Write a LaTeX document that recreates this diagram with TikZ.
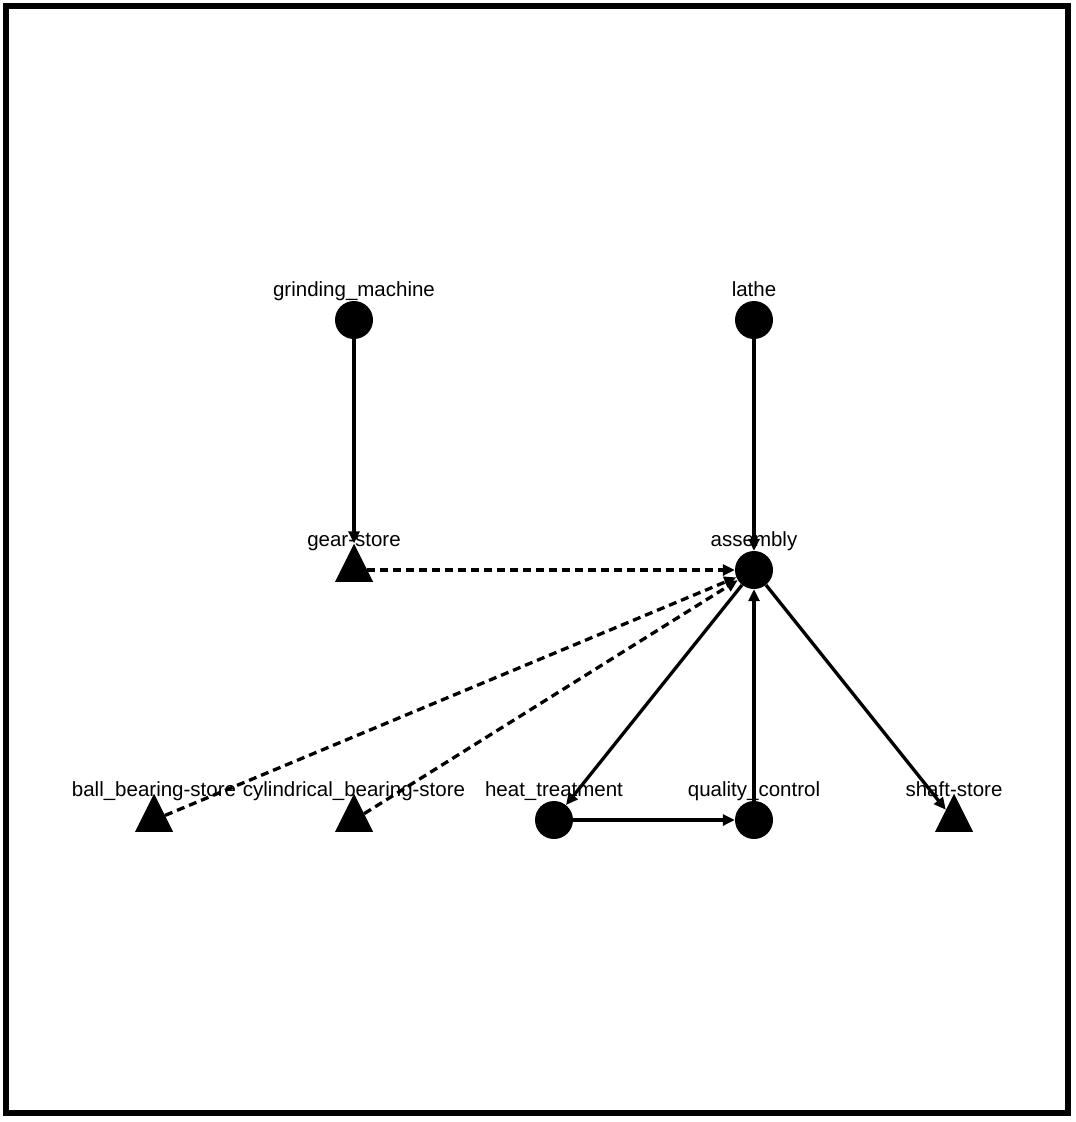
\documentclass[tikz,border=0pt]{standalone}
\usepackage{fontspec}
\setmainfont{Liberation Sans}
\usetikzlibrary{arrows.meta,shapes.geometric}
\begin{document}
\begin{tikzpicture}[x=1pt,y=-1pt,
  proc/.style={circle,fill=black,inner sep=0pt,minimum size=38pt},
  store/.style={isosceles triangle,isosceles triangle apex angle=60,shape border rotate=90,fill=black,inner sep=0pt,minimum height=38pt,minimum width=38pt,isosceles triangle stretches},
  lbl/.style={font=\fontsize{20.5}{20.5}\selectfont,inner sep=0pt,anchor=base},
  flow/.style={line width=3.3pt,-{Triangle[length=12pt,width=11pt]}},
  dflow/.style={flow,dash pattern=on 8pt off 5pt}]
\useasboundingbox (0,0) rectangle (1076,1122);
\draw[line width=5.5pt] (6,6) rectangle (1068,1113);
\node[proc] (gm) at (354,320) {};
\node[proc] (la) at (754,320) {};
\node[store] (gs) at (354,570) {};
\node[proc] (as) at (754,570) {};
\node[store] (bb) at (154,820) {};
\node[store] (cb) at (354,820) {};
\node[proc] (ht) at (554,820) {};
\node[proc] (qc) at (754,820) {};
\node[store] (ss) at (954,820) {};
\node[lbl] (gml) at (354,296) {grinding\_machine};
\node[lbl] (lal) at (754,296) {lathe};
\node[lbl] (gsl) at (354,546) {gear-store};
\node[lbl] (asl) at (754,546) {assembly};
\node[lbl] (bbl) at (154,796) {ball\_bearing-store};
\node[lbl] (cbl) at (354,796) {cylindrical\_bearing-store};
\node[lbl] (htl) at (554,796) {heat\_treatment};
\node[lbl] (qcl) at (754,796) {quality\_control};
\node[lbl] (ssl) at (954,796) {shaft-store};
\draw[flow] (gm) -- (gs.apex);
\draw[flow] (la) -- (as);
\draw[dflow] (gs) -- (as);
\draw[dflow] (bb) -- (as);
\draw[dflow] (cb) -- (as);
\draw[flow] (as) -- (ht);
\draw[flow] (ht) -- (qc);
\draw[flow] (qc) -- (as);
\draw[flow] (as) -- (ss);
\end{tikzpicture}
\end{document}
